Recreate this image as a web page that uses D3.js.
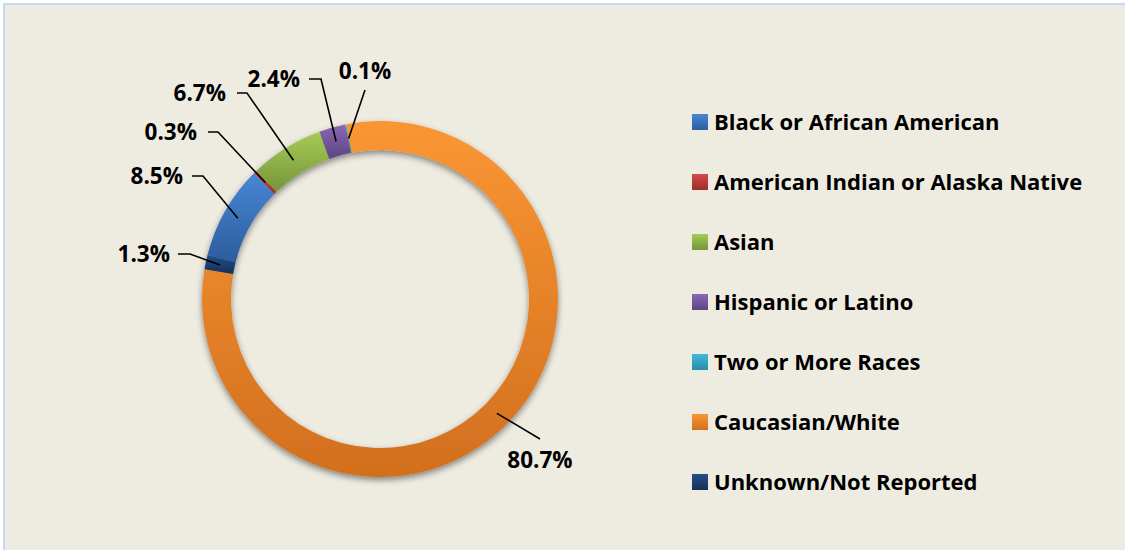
<!DOCTYPE html>
<html>
<head>
<meta charset="utf-8">
<script src="https://cdn.jsdelivr.net/npm/d3@7/dist/d3.min.js"></script>
<style>
  html, body { margin: 0; padding: 0; background: #ffffff; }
  svg { display: block; }
  text { font-family: "Open Sans", Lato, sans-serif; font-weight: 700; fill: #000; }
</style>
</head>
<body>
<svg id="chart" width="1125" height="550"></svg>
<script>
// ---- data ----
const categories = [
  "Black or African American",
  "American Indian or Alaska Native",
  "Asian",
  "Hispanic or Latino",
  "Two or More Races",
  "Caucasian/White",
  "Unknown/Not Reported"
];
const values = [8.5, 0.3, 6.7, 2.4, 0.1, 80.7, 1.3];
const valueLabels = ["8.5%", "0.3%", "6.7%", "2.4%", "0.1%", "80.7%", "1.3%"];

// ---- styles ----
const colorTop = ["#4886d6", "#d44b48", "#a6cb57", "#8a68b3", "#43b8d9", "#fa9633", "#23508a"];
const colorBot = ["#2c5d9d", "#9e2b29", "#76953a", "#5d4582", "#2a8caa", "#d26f1e", "#142f56"];

// label layout: text anchor position + leader line start (elbow)
const labelLayout = [
  { tx: 183, ty: 184, anchor: "end",    lx: 192, ly: 176, hx: 11 },
  { tx: 197, ty: 140, anchor: "end",    lx: 208, ly: 132, hx: 10 },
  { tx: 226, ty: 101, anchor: "end",    lx: 237, ly: 93,  hx: 10 },
  { tx: 300, ty: 87,  anchor: "end",    lx: 309, ly: 79,  hx: 12 },
  { tx: 365, ty: 79,  anchor: "middle", lx: 365, ly: 90,  hx: 0 },
  { tx: 540, ty: 468, anchor: "middle", lx: 540, ly: 439, hx: 0 },
  { tx: 170, ty: 262, anchor: "end",    lx: 178, ly: 254, hx: 12 }
];

const svg = d3.select("#chart");
const W = 1125, H = 550;

const defs = svg.append("defs");
categories.forEach((c, i) => {
  const g = defs.append("linearGradient")
    .attr("id", "grad" + i)
    .attr("x1", 0).attr("y1", 0).attr("x2", 0).attr("y2", 1);
  g.append("stop").attr("offset", "0%").attr("stop-color", colorTop[i]);
  g.append("stop").attr("offset", "100%").attr("stop-color", colorBot[i]);
});
const f = defs.append("filter").attr("id", "shadow")
  .attr("x", "-20%").attr("y", "-20%").attr("width", "140%").attr("height", "140%");
f.append("feDropShadow").attr("dx", 0).attr("dy", 3).attr("stdDeviation", 3)
  .attr("flood-color", "#000").attr("flood-opacity", 0.45);

// chart area
svg.append("rect")
  .attr("x", 4).attr("y", 4).attr("width", W + 10).attr("height", H + 10)
  .attr("fill", "#eeece1").attr("stroke", "#c6d9f1").attr("stroke-width", 2);

// donut
const cx = 380, cy = 299, rOuter = 178, rInner = 149;
const startAngle = -75.7 * Math.PI / 180;
const pie = d3.pie().sort(null).value(d => d)
  .startAngle(startAngle).endAngle(startAngle + 2 * Math.PI);
const arcs = pie(values);
const arc = d3.arc().innerRadius(rInner).outerRadius(rOuter);
const midArc = d3.arc().innerRadius((rInner + rOuter) / 2).outerRadius((rInner + rOuter) / 2);

const g = svg.append("g").attr("transform", `translate(${cx},${cy})`);
g.append("g").attr("filter", "url(#shadow)")
  .selectAll("path").data(arcs).join("path")
  .attr("d", arc)
  .attr("fill", (d, i) => `url(#grad${i})`);

// leader lines + labels
const lg = svg.append("g");
arcs.forEach((d, i) => {
  const L = labelLayout[i];
  const c = midArc.centroid(d);
  const ex = cx + c[0], ey = cy + c[1];
  const pts = [[L.lx, L.ly]];
  if (L.hx) pts.push([L.lx + L.hx, L.ly]);
  pts.push([ex, ey]);
  lg.append("path")
    .attr("d", d3.line()(pts))
    .attr("fill", "none").attr("stroke", "#000").attr("stroke-width", 1.6);
  lg.append("text")
    .attr("x", L.tx).attr("y", L.ty)
    .attr("text-anchor", L.anchor)
    .style("font-size", "22.5px")
    .text(valueLabels[i]);
});

// legend
const legend = svg.append("g").attr("transform", "translate(692,114)");
const items = legend.selectAll("g").data(categories).join("g")
  .attr("transform", (d, i) => `translate(0,${i * 60})`);
items.append("rect").attr("width", 16).attr("height", 16)
  .attr("fill", (d, i) => `url(#grad${i})`);
items.append("text").attr("x", 22).attr("y", 16)
  .style("font-size", "22px")
  .text(d => d);
</script>
</body>
</html>
